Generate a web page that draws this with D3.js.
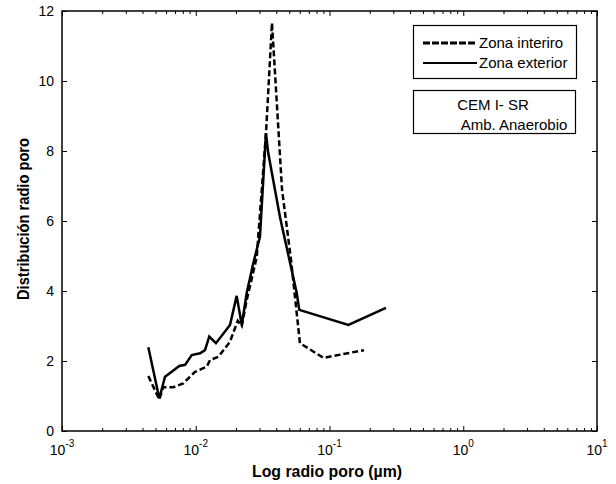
<!DOCTYPE html>
<html><head><meta charset="utf-8">
<script src="https://cdn.jsdelivr.net/npm/d3@7"></script>
<style>
body{margin:0;background:#fff;}
text{font-family:"Liberation Sans",Arial,sans-serif;}
</style></head>
<body><svg id="c" width="616" height="484"></svg>
<script>
// Data (radius in µm, distribution value)
const exteriorR = [0.00442,0.00534,0.00589,0.00661,0.00753,0.00832,0.00933,0.01077,0.01173,0.01262,0.01416,0.01803,0.02023,0.02208,0.02404,0.02692,0.03020,0.03350,0.03483,0.04266,0.05688,0.05943,0.1384,0.2643];
const exteriorV = [2.39,0.93,1.55,1.69,1.86,1.89,2.17,2.22,2.31,2.70,2.51,3.03,3.86,3.03,3.94,4.79,5.55,8.51,7.94,6.11,3.94,3.46,3.03,3.52];
const interiorR = [0.00442,0.00534,0.00571,0.00679,0.00807,0.00987,0.01208,0.01280,0.01476,0.01803,0.02060,0.02208,0.02404,0.02858,0.03350,0.03715,0.04416,0.05152,0.06012,0.0900,0.1811];
const interiorV = [1.57,0.90,1.25,1.25,1.36,1.69,1.84,2.03,2.12,2.55,3.15,3.00,3.74,4.97,8.50,11.66,6.90,4.90,2.51,2.09,2.31];
const yTicks = [0,2,4,6,8,10,12];
const xDecades = [-3,-2,-1,0,1];
const legendLabels = ["Zona interiro","Zona exterior"];
const noteLines = ["CEM I- SR","Amb. Anaerobio"];
const xTitle = "Log radio poro (\u00b5m)";
const yTitle = "Distribución radio poro";

const svg = d3.select("#c");
const L=62,R=597,T=11,B=431;
const x = d3.scaleLog().domain([1e-3,10]).range([L,R]);
const y = d3.scaleLinear().domain([0,12]).range([B,T]);

const major = xDecades.map(e=>Math.pow(10,e));
const minor = [];
for(let e=-3;e<1;e++) for(let k=2;k<=9;k++) minor.push(k*Math.pow(10,e));

function styleAxis(g){
  g.selectAll(".domain").remove();
  g.selectAll("line").attr("stroke","#000").attr("stroke-width",1);
}
// bottom & top axes (inward ticks)
svg.append("g").attr("transform",`translate(0,${B})`).call(d3.axisBottom(x).tickValues(major).tickSize(-5).tickFormat("")).call(styleAxis);
svg.append("g").attr("transform",`translate(0,${B})`).call(d3.axisBottom(x).tickValues(minor).tickSize(-3).tickFormat("")).call(styleAxis);
svg.append("g").attr("transform",`translate(0,${T})`).call(d3.axisTop(x).tickValues(major).tickSize(-5).tickFormat("")).call(styleAxis);
svg.append("g").attr("transform",`translate(0,${T})`).call(d3.axisTop(x).tickValues(minor).tickSize(-3).tickFormat("")).call(styleAxis);
// left & right
const gl = svg.append("g").attr("transform",`translate(${L},0)`).call(d3.axisLeft(y).tickValues(yTicks).tickSize(-5).tickPadding(8).tickFormat(d3.format("d"))).call(styleAxis);
gl.selectAll("text").attr("font-size",14).attr("fill","#000").attr("font-family","Liberation Sans, Arial, sans-serif");
svg.append("g").attr("transform",`translate(${R},0)`).call(d3.axisRight(y).tickValues(yTicks).tickSize(-5).tickFormat("")).call(styleAxis);

// frame
svg.append("rect").attr("x",L).attr("y",T).attr("width",R-L).attr("height",B-T).attr("fill","none").attr("stroke","#000").attr("stroke-width",1.5);

// x tick labels with superscripts
xDecades.forEach(e=>{
  const t = svg.append("text").attr("x",x(Math.pow(10,e))).attr("y",B+24).attr("font-size",14).attr("text-anchor","middle");
  t.append("tspan").text("10");
  t.append("tspan").attr("dy",-8).attr("font-size",10).text(e);
});

// titles
svg.append("text").attr("x",252).attr("y",477).attr("font-size",16).attr("font-weight","bold")
  .attr("textLength",150).attr("lengthAdjust","spacingAndGlyphs").text(xTitle);
svg.append("text").attr("transform",`translate(29,${219}) rotate(-90)`).attr("x",-81).attr("font-size",16).attr("font-weight","bold")
  .attr("textLength",162).attr("lengthAdjust","spacingAndGlyphs").text(yTitle);

// lines
const line = d3.line().x(d=>x(d[0])).y(d=>y(d[1]));
const ext = exteriorR.map((r,i)=>[r,exteriorV[i]]);
const int = interiorR.map((r,i)=>[r,interiorV[i]]);
svg.append("path").datum(int).attr("d",line).attr("fill","none").attr("stroke","#000").attr("stroke-width",2.5).attr("stroke-dasharray","6,3");
svg.append("path").datum(ext).attr("d",line).attr("fill","none").attr("stroke","#000").attr("stroke-width",2.5);

// legend box
svg.append("rect").attr("x",413.5).attr("y",25.5).attr("width",163).attr("height",53).attr("fill","#fff").attr("stroke","#000").attr("stroke-width",1.2);
svg.append("line").attr("x1",423).attr("x2",477).attr("y1",43).attr("y2",43).attr("stroke","#000").attr("stroke-width",3).attr("stroke-dasharray","7,2");
svg.append("line").attr("x1",423).attr("x2",477).attr("y1",63).attr("y2",63).attr("stroke","#000").attr("stroke-width",2);
legendLabels.forEach((s,i)=>svg.append("text").attr("x",479).attr("y",48+i*20).attr("font-size",15).text(s));

// note box
svg.append("rect").attr("x",413.5).attr("y",90.5).attr("width",162).attr("height",43).attr("fill","#fff").attr("stroke","#000").attr("stroke-width",1.2);
svg.append("text").attr("x",493).attr("y",110).attr("text-anchor","middle").attr("font-size",15).text(noteLines[0]);
svg.append("text").attr("x",514).attr("y",130).attr("text-anchor","middle").attr("font-size",15).text(noteLines[1]);
</script></body></html>
